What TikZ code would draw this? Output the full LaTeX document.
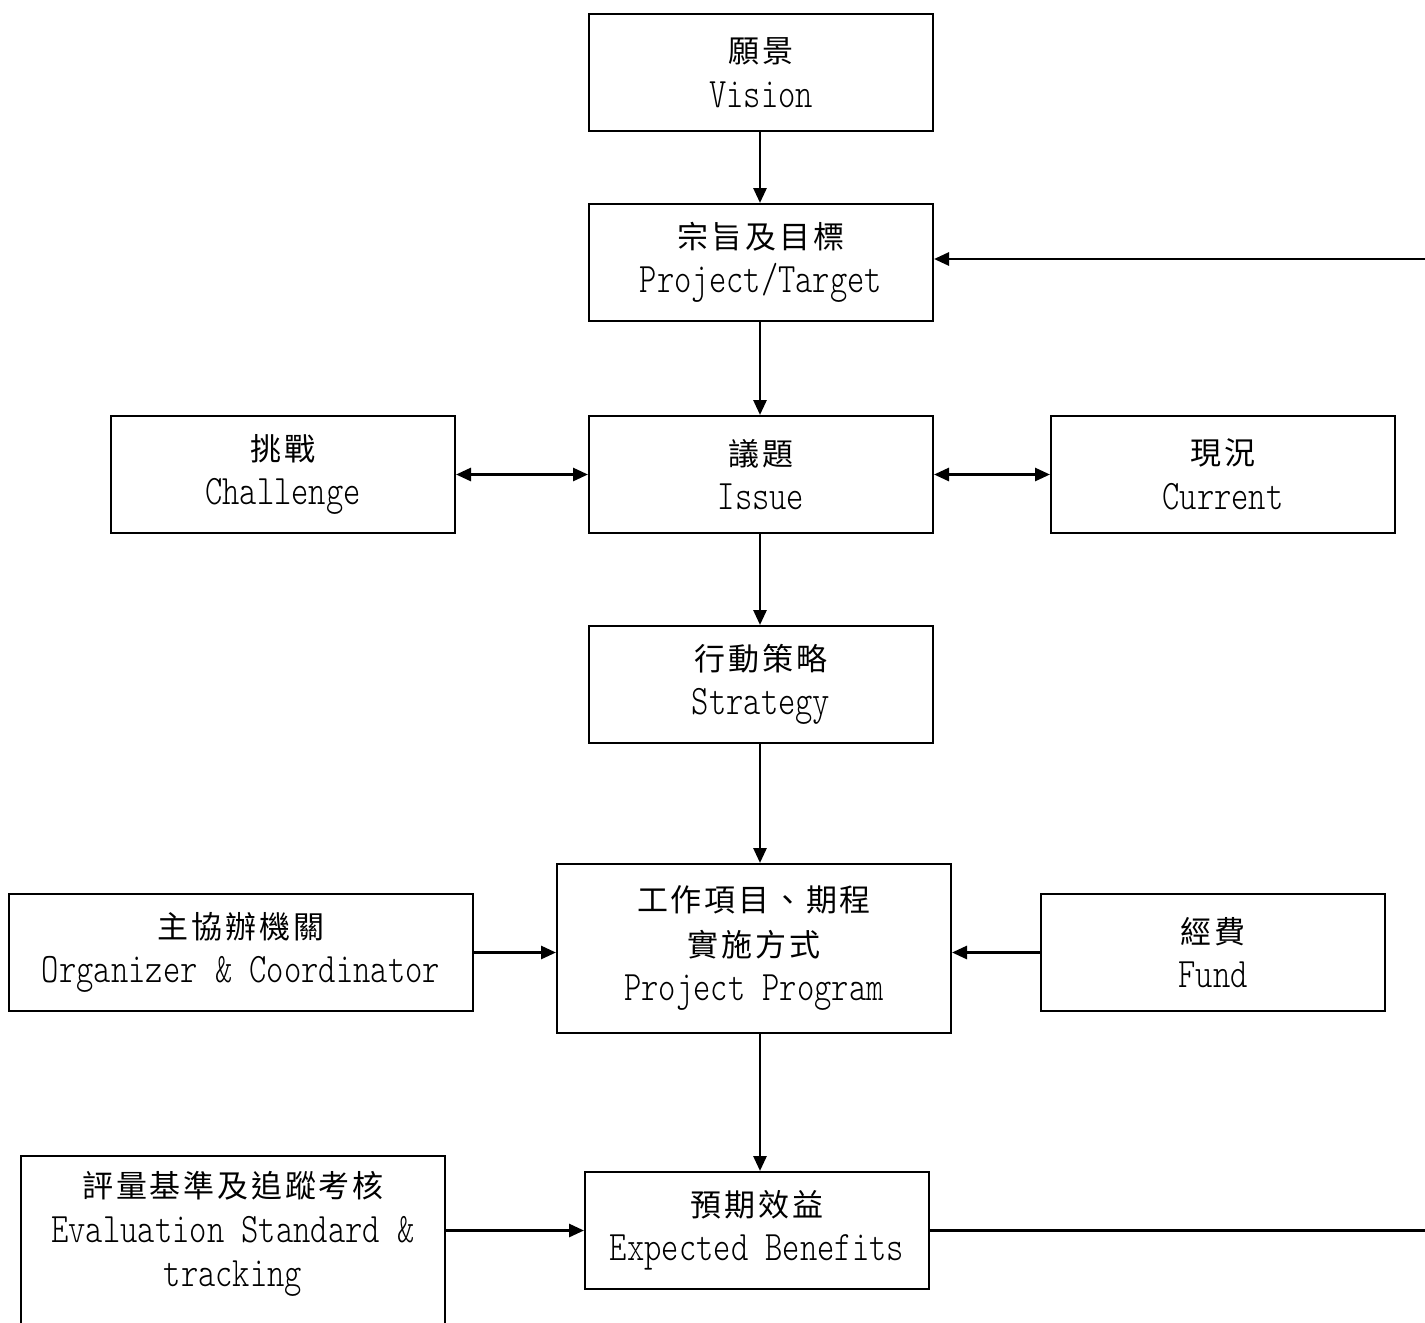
\documentclass[tikz,border=0pt]{standalone}
\usepackage{fontspec}
\usetikzlibrary{arrows.meta}
\newfontfamily\cjk[LetterSpace=9]{Noto Sans CJK TC}
\newfontfamily\lat[FakeStretch=0.785]{lmmonolt10-regular.otf}
\newcommand\zh[1]{{\cjk #1}}
\newcommand\en[1]{{\fontsize{42pt}{44.5pt}\selectfont\lat #1}}
\begin{document}
\begin{tikzpicture}[x=1pt,y=-1pt,
  box/.style={draw, line width=2pt, inner sep=0pt, align=center, font=\fontsize{31pt}{44.5pt}\selectfont},
  txt/.style={inner sep=0pt, align=center, font=\fontsize{31pt}{44.5pt}\selectfont},
  arr/.style={line width=2.8pt, -{Triangle[length=15pt,width=13pt]}},
  darr/.style={line width=2.8pt, {Triangle[length=15pt,width=13pt]}-{Triangle[length=15pt,width=13pt]}}]
\useasboundingbox (0,0) rectangle (1425,1323);
\clip (0,0) rectangle (1425,1323);
\fill[white] (0,0) rectangle (1425,1323);

\node (vision) [box, minimum width=344pt, minimum height=117pt] at (761,72.5) {\zh{願景}\\\en{Vision}};
\node (target) [box, minimum width=344pt, minimum height=117pt] at (761,262.5) {\zh{宗旨及目標}\\\en{Project/Target}};
\node (issue) [box, minimum width=344pt, minimum height=117pt] at (761,474.5) {\zh{議題}\\\en{Issue}};
\node (challenge) [box, minimum width=344pt, minimum height=117pt] at (283,474.5) {\zh{挑戰}\\\en{Challenge}};
\node (current) [box, minimum width=344pt, minimum height=117pt] at (1223,474.5) {\zh{現況}\\\en{Current}};
\node (strategy) [box, minimum width=344pt, minimum height=117pt] at (761,684.5) {\zh{行動策略}\\\en{Strategy}};
\node (program) [box, minimum width=394pt, minimum height=169pt] at (754,948.5) {\zh{工作項目、期程}\\\zh{實施方式}\\\en{Project Program}};
\node (organizer) [box, minimum width=464pt, minimum height=117pt] at (241,952.5) {\zh{主協辦機關}\\\en{Organizer \& Coordinator}};
\node (fund) [box, minimum width=344pt, minimum height=117pt] at (1213,952.5) {\zh{經費}\\\en{Fund}};
\node (benefits) [box, minimum width=344pt, minimum height=117pt] at (757,1230.5) {\zh{預期效益}\\\en{Expected Benefits}};
\node (evalbox) [draw, line width=2pt, minimum width=424pt, minimum height=200pt] at (233,1256) {};
\node (evaltext) [txt] at (233,1234) {\zh{評量基準及追蹤考核}\\\en{Evaluation Standard \&}\\\en{tracking}};

\coordinate (fb) at (1432,750);
\coordinate (fbt) at (1432,259);

\draw[arr] (vision.south -| 760,0) -- (target.north -| 760,0);
\draw[arr] (target.south -| 760,0) -- (issue.north -| 760,0);
\draw[arr] (issue.south -| 760,0) -- (strategy.north -| 760,0);
\draw[arr] (strategy.south -| 760,0) -- (program.north -| 760,0);
\draw[arr] (program.south -| 760,0) -- (benefits.north -| 760,0);
\draw[darr] (challenge.east) -- (issue.west |- challenge.east);
\draw[darr] (issue.east) -- (current.west |- issue.east);
\draw[arr] (organizer.east) -- (program.west |- organizer.east);
\draw[arr] (fund.west) -- (program.east |- fund.west);
\draw[arr] (evalbox.east |- benefits.west) -- (benefits.west);
\draw[arr] (benefits.east) -- (benefits.east -| fb) -- (fbt) -- (fbt -| target.east);
\end{tikzpicture}
\end{document}
